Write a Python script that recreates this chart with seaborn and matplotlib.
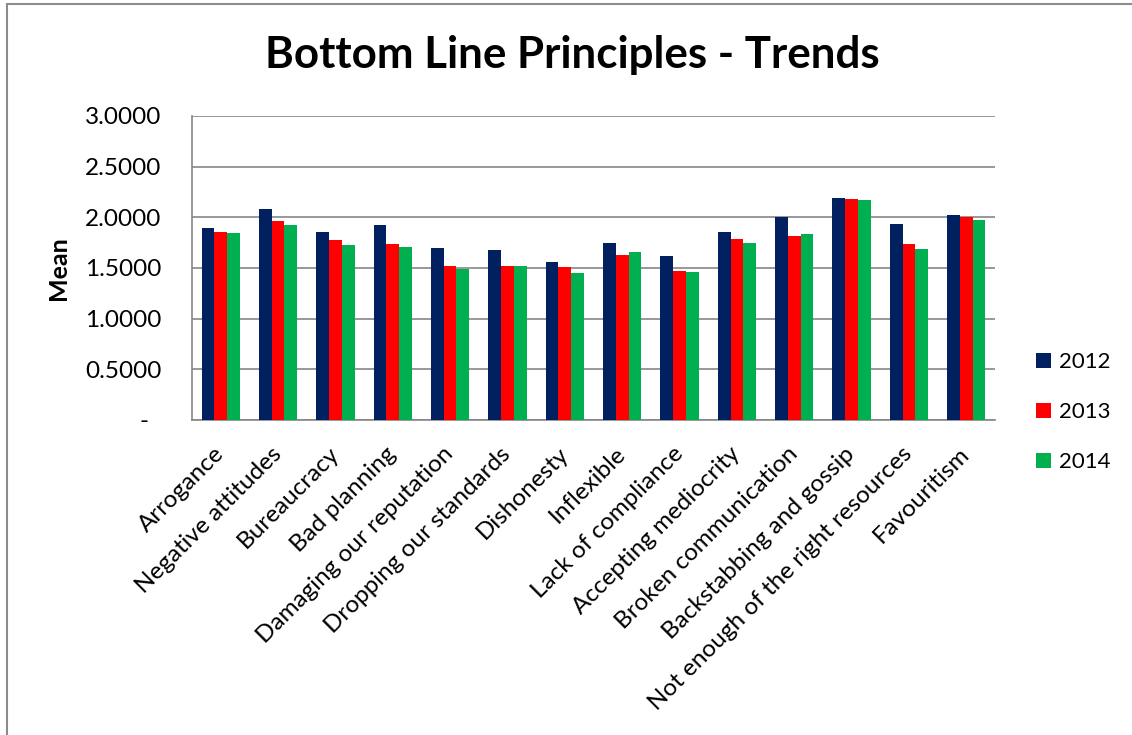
import matplotlib
matplotlib.use("Agg")
import matplotlib.pyplot as plt
import seaborn as sns
import pandas as pd
from matplotlib.patches import Rectangle

categories = [
    "Arrogance", "Negative attitudes", "Bureaucracy", "Bad planning",
    "Damaging our reputation", "Dropping our standards", "Dishonesty",
    "Inflexible", "Lack of compliance", "Accepting mediocrity",
    "Broken communication", "Backstabbing and gossip",
    "Not enough of the right resources", "Favouritism",
]
years = ["2012", "2013", "2014"]
mean_2012 = [1.896, 2.083, 1.859, 1.925, 1.698, 1.679, 1.564, 1.744, 1.623, 1.856, 2.000, 2.187, 1.934, 2.026]
mean_2013 = [1.859, 1.961, 1.777, 1.734, 1.515, 1.521, 1.507, 1.633, 1.472, 1.787, 1.820, 2.177, 1.741, 2.003]
mean_2014 = [1.846, 1.925, 1.728, 1.711, 1.490, 1.515, 1.455, 1.662, 1.465, 1.744, 1.833, 2.167, 1.689, 1.974]
colors = ["#002060", "#FF0000", "#00B050"]
y_ticks = [0, 0.5, 1.0, 1.5, 2.0, 2.5, 3.0]
y_tick_labels = ["-  ", "0.5000", "1.0000", "1.5000", "2.0000", "2.5000", "3.0000"]

df = pd.DataFrame({
    "Category": categories * 3,
    "Year": [y for y in years for _ in categories],
    "Mean": mean_2012 + mean_2013 + mean_2014,
})

sns.set_theme(style="white")
plt.rcParams["font.family"] = ["Lato", "DejaVu Sans"]
plt.rcParams["text.color"] = "black"
plt.rcParams["axes.labelcolor"] = "black"
plt.rcParams["xtick.color"] = "black"
plt.rcParams["ytick.color"] = "black"

W, H = 1132, 735
fig = plt.figure(figsize=(W / 100, H / 100), dpi=100)
ax = fig.add_axes([192 / W, 1 - 420 / H, (995 - 192) / W, (420 - 116) / H])

sns.barplot(data=df, x="Category", y="Mean", hue="Year", order=categories,
            hue_order=years, palette=colors, width=0.667, gap=0,
            saturation=1, linewidth=0, ax=ax, zorder=3)

ax.set_xlim(-0.5, len(categories) - 0.5)
ax.set_ylim(0, 3.0)
ax.set_yticks(y_ticks)
ax.set_yticklabels(y_tick_labels, fontsize=17.5)
ax.yaxis.grid(True, color="#868686", linewidth=1.2, zorder=0)
ax.tick_params(axis="y", length=0, pad=22)
ax.tick_params(axis="x", length=0, pad=22)
ax.set_xticks(range(len(categories)))
ax.set_xticklabels(categories, rotation=45, ha="right", va="center",
                   rotation_mode="anchor", fontsize=17.5)
ax.set_xlabel("")
ax.set_ylabel("Mean", fontsize=18, fontweight="bold")
ax.yaxis.set_label_coords((70 - 192) / 803, 0.5)

for side in ["top", "right"]:
    ax.spines[side].set_visible(False)
for side in ["left", "bottom"]:
    ax.spines[side].set_color("#868686")
    ax.spines[side].set_linewidth(1.2)

handles, labels = ax.get_legend_handles_labels()
ax.legend(handles, labels, loc="center left", bbox_to_anchor=(1036 / W, 1 - 412 / H),
          bbox_transform=fig.transFigure, frameon=False, fontsize=16,
          handlelength=0.68, handleheight=0.68, labelspacing=1.35,
          handletextpad=0.35, borderpad=0, borderaxespad=0)

fig.text(572 / W, 1 - 55 / H, "Bottom Line Principles - Trends",
         ha="center", va="center", fontsize=31.6, fontweight="bold")

fig.patches.append(Rectangle((7 / W, -0.1), 1.2, 1 - 4 / H + 0.1,
                             transform=fig.transFigure, fill=False,
                             edgecolor="#8c8c8c", linewidth=1.5))

fig.savefig("out.png", dpi=100, facecolor="white")
